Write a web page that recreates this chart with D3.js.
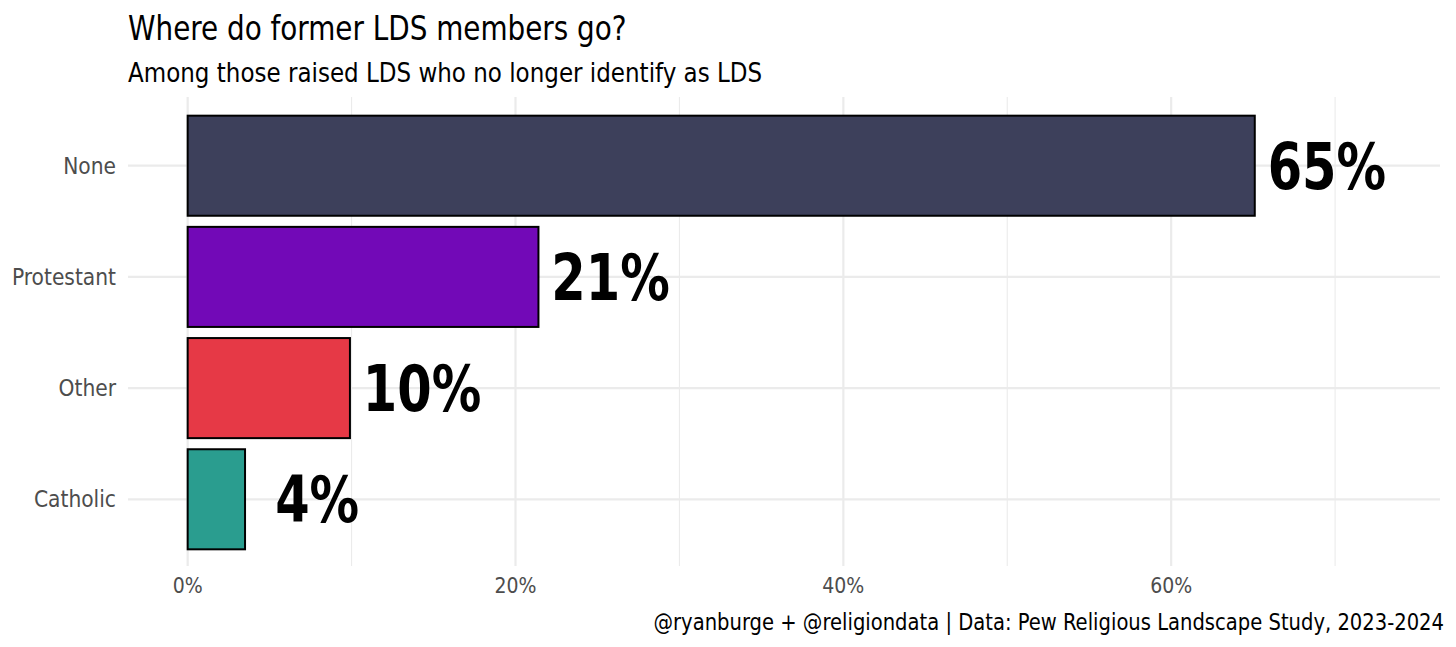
<!DOCTYPE html>
<html><head><meta charset="utf-8">
<script src="https://cdn.jsdelivr.net/npm/d3@7"></script>
<style>
body{margin:0;background:#fff;}
svg{display:block;}
.f{font-family:"DejaVu Sans Condensed","DejaVu Sans",sans-serif;}
</style></head>
<body><svg id="c" width="1456" height="647"></svg>
<script>
const categories = ["None","Protestant","Other","Catholic"];
const values = [65.1, 21.4, 9.9, 3.5];
const labels = ["65%","21%","10%","4%"];
const colors = ["#3d405b","#7209b7","#e63946","#2a9d8f"];
const xTicks = [0,20,40,60];
const xMinor = [10,30,50,70];
const labelNudge = 4.4;

const svg = d3.select("#c");
const panel = {l:128, r:1440, t:99, b:566};
const x = d3.scaleLinear().domain([-3.64, 76.4]).range([panel.l, panel.r]);
const y = d3.scaleBand().domain(categories).range([panel.t, panel.b]).paddingInner(0.1).paddingOuter(0.15);
const cy = d => y(d) + y.bandwidth()/2;

const g = svg.append("g");
g.selectAll(".minor").data(xMinor).enter().append("line")
  .attr("x1",d=>x(d)).attr("x2",d=>x(d)).attr("y1",97).attr("y2",566)
  .attr("stroke","#ebebeb").attr("stroke-width",1.1);
g.selectAll(".major").data(xTicks).enter().append("line")
  .attr("x1",d=>x(d)).attr("x2",d=>x(d)).attr("y1",97).attr("y2",566)
  .attr("stroke","#ebebeb").attr("stroke-width",2.2);
g.selectAll(".hg").data(categories).enter().append("line")
  .attr("x1",panel.l).attr("x2",panel.r)
  .attr("y1",cy).attr("y2",cy)
  .attr("stroke","#ebebeb").attr("stroke-width",2.2);

g.selectAll(".bar").data(categories).enter().append("rect")
  .attr("x",x(0)).attr("y",d=>y(d))
  .attr("width",(d,i)=>x(values[i])-x(0)).attr("height",y.bandwidth())
  .attr("fill",(d,i)=>colors[i]).attr("stroke","#000").attr("stroke-width",2);

function stxt(sel, sx){
  sel.each(function(){
    const t=d3.select(this);
    const tx=+t.attr("x"), ty=+t.attr("y");
    t.attr("x",0).attr("y",0).attr("transform",`translate(${tx},${ty}) scale(${sx},1)`);
  });
}

g.selectAll(".vl").data(categories).enter().append("text").attr("class","f")
  .attr("x",(d,i)=>x(values[i]+labelNudge)).attr("y",d=>cy(d)+23)
  .attr("text-anchor","middle")
  .attr("font-size",64).attr("font-weight","bold").attr("fill","#000")
  .text((d,i)=>labels[i]).call(stxt,0.86);

g.selectAll(".yl").data(categories).enter().append("text").attr("class","f")
  .attr("x",116).attr("y",d=>cy(d)+8)
  .attr("text-anchor","end").attr("font-size",22.5).attr("fill","#4d4d4d").text(d=>d);

g.selectAll(".xl").data(xTicks).enter().append("text").attr("class","f")
  .attr("x",d=>x(d)).attr("y",593).attr("text-anchor","middle")
  .attr("font-size",21).attr("fill","#4d4d4d").text(d=>d+"%");

svg.append("text").attr("class","f").attr("x",128).attr("y",40)
  .attr("font-size",34).attr("fill","#000").text("Where do former LDS members go?").call(stxt,0.91);
svg.append("text").attr("class","f").attr("x",128).attr("y",82)
  .attr("font-size",27).attr("fill","#000").text("Among those raised LDS who no longer identify as LDS").call(stxt,0.948);
svg.append("text").attr("class","f").attr("x",1444).attr("y",630).attr("text-anchor","end")
  .attr("font-size",23).attr("fill","#000").text("@ryanburge + @religiondata | Data: Pew Religious Landscape Study, 2023-2024").call(stxt,0.946);
</script></body></html>
